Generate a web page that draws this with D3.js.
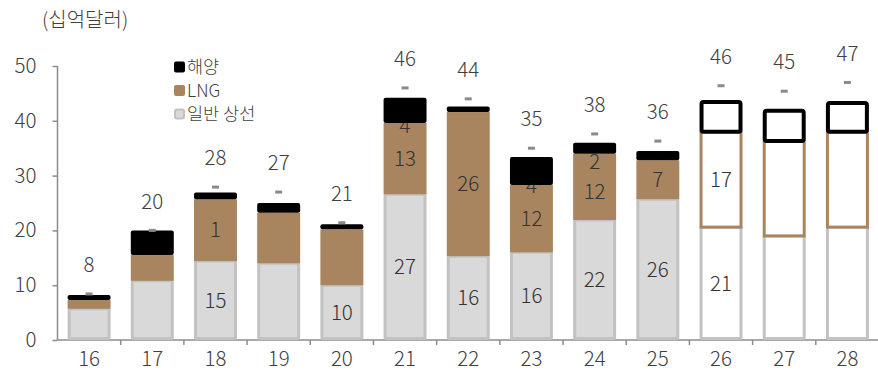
<!DOCTYPE html>
<html><head><meta charset="utf-8">
<script src="https://cdn.jsdelivr.net/npm/d3@7/dist/d3.min.js"></script>
<style>body{margin:0;background:#fff;} svg text{font-family:"Noto Sans CJK KR","Noto Sans",sans-serif;font-weight:300;}</style>
</head><body><svg id="c" width="878" height="374"></svg>
<script>
const years = ["16","17","18","19","20","21","22","23","24","25","26","27","28"];
const general = [5.7, 10.8, 14.4, 14.0, 10.0, 26.6, 15.3, 16.0, 21.9, 25.7, 20.6, 19.0, 20.6];
const lng = [1.6, 4.7, 11.3, 9.2, 10.2, 13.0, 26.3, 12.3, 12.1, 7.1, 17.4, 17.3, 17.4];
const offshore = [0.9, 4.5, 1.2, 1.8, 0.9, 4.6, 1.0, 5.1, 2.0, 1.7, 5.8, 5.9, 5.6];
const totalMarker = [8.4, 20.0, 27.9, 27.0, 21.4, 46.0, 44.0, 35.0, 37.6, 36.3, 46.4, 45.4, 47.0];
const totalLabels = ["8","20","28","27","21","46","44","35","38","36","46","45","47"];
const generalLabels = [null,null,"15",null,"10","27","16","16","22","26","21",null,null];
const lngLabels = [null,null,"1",null,null,"13","26","12","12","7","17",null,null];
const offshoreLabels = [null,null,null,null,null,"4",null,"4","2",null,null,null,null];
const forecast = [false,false,false,false,false,false,false,false,false,false,true,true,true];
const yTicks = [0,10,20,30,40,50];
const legendItems = ["해양","LNG","일반 상선"];

const C = {gray:"#d9d9d9", grayS:"#c2c2c2", brown:"#a8855f", black:"#000", text:"#404040", axis:"#8c8c8c"};
const svg = d3.select("#c");
const x = d3.scaleBand().domain(years).range([57.5, 879]).paddingInner(0.32).paddingOuter(0.16);
const xb = d3.scaleBand().domain(years).range([57.5, 879]);
const y = d3.scaleLinear().domain([0,50]).range([340,66]);
const bw = x.bandwidth();
const FS = "20.5px";

// axes
const ya = svg.append("g").attr("transform","translate(57.5,0)")
  .call(d3.axisLeft(y).tickValues(yTicks).tickSize(5).tickPadding(16).tickSizeOuter(0));
ya.select(".domain").attr("stroke",C.axis).attr("stroke-width",1.5).attr("d","M0,340V66");
ya.selectAll(".tick line").attr("stroke",C.axis).attr("stroke-width",1.5);
ya.selectAll(".tick text").attr("fill",C.text).style("font-size",FS);

const xa = svg.append("g").attr("transform","translate(0,340)")
  .call(d3.axisBottom(xb).tickSize(0).tickPadding(11));
xa.select(".domain").attr("stroke",C.axis).attr("stroke-width",1.5).attr("d","M57.5,0H878");
xa.selectAll(".tick text").attr("fill",C.text).style("font-size",FS);
svg.append("g").selectAll("line").data(years).join("line")
  .attr("x1",d=>xb(d)+xb.bandwidth()).attr("x2",d=>xb(d)+xb.bandwidth())
  .attr("y1",340).attr("y2",345).attr("stroke",C.axis).attr("stroke-width",1.5);

const data = years.map((yr,i)=>({yr,i,g:general[i],l:lng[i],o:offshore[i],f:forecast[i]}));
const bars = svg.append("g");
// general
bars.selectAll("rect.g").data(data).join("rect").attr("class","g")
  .attr("x",d=>x(d.yr)+1.5).attr("width",bw-3)
  .attr("y",d=>y(d.g)).attr("height",d=>y(0)-y(d.g)-1.5)
  .attr("fill",d=>d.f?"#fff":C.gray).attr("stroke",C.grayS).attr("stroke-width",3).attr("rx",1);
// lng
bars.selectAll("rect.l").data(data).join("rect").attr("class","l")
  .attr("x",d=>d.f?x(d.yr)+1.5:x(d.yr)).attr("width",d=>d.f?bw-3:bw)
  .attr("y",d=>y(d.g+d.l)).attr("height",d=>y(d.g)-y(d.g+d.l))
  .attr("fill",d=>d.f?"#fff":C.brown).attr("stroke",d=>d.f?C.brown:"none").attr("stroke-width",3);
// offshore labels (drawn under black)
const lab = svg.append("g").attr("fill","#333").style("font-size",FS).attr("text-anchor","middle");
lab.selectAll("text.ol").data(data.filter(d=>offshoreLabels[d.i])).join("text").attr("class","ol")
  .attr("x",d=>x(d.yr)+bw/2).attr("y",d=>y(d.g+d.l+d.o/2)+(d.i===8?14:15)).attr("dy","0.35em").text(d=>offshoreLabels[d.i]);
// offshore
const ob = svg.append("g");
ob.selectAll("rect").data(data).join("rect")
  .attr("x",d=>d.f?x(d.yr)+2:x(d.yr)).attr("width",d=>d.f?bw-4:bw)
  .attr("y",d=>y(d.g+d.l+d.o)+(d.f?2:0)).attr("height",d=>y(d.g+d.l)-y(d.g+d.l+d.o)-(d.f?2:0))
  .attr("fill",d=>d.f?"#fff":C.black).attr("stroke",d=>d.f?C.black:"none").attr("stroke-width",4).attr("rx",2);
// markers
svg.append("g").selectAll("rect").data(data).join("rect")
  .attr("x",d=>x(d.yr)+bw/2-3.5).attr("width",7).attr("y",d=>y(totalMarker[d.i])-1.5).attr("height",3)
  .attr("fill","#8a8a8a");
// labels
const lab2 = svg.append("g").attr("fill","#333").style("font-size",FS).attr("text-anchor","middle");
lab2.selectAll("text.gl").data(data.filter(d=>generalLabels[d.i])).join("text")
  .attr("x",d=>x(d.yr)+bw/2).attr("y",d=>y(d.g/2)).attr("dy","0.35em").text(d=>generalLabels[d.i]);
lab2.selectAll("text.ll").data(data.filter(d=>lngLabels[d.i])).join("text")
  .attr("x",d=>x(d.yr)+bw/2).attr("y",d=>y(d.g+d.l/2)+(d.i===8?5:0)).attr("dy","0.35em").text(d=>lngLabels[d.i]);
lab2.selectAll("text.tl").data(data).join("text").attr("fill",C.text)
  .attr("x",d=>x(d.yr)+bw/2).attr("y",d=>y(totalMarker[d.i])-29).attr("dy","0.35em").text(d=>totalLabels[d.i]);

// unit
svg.append("text").attr("x",42).attr("y",20).attr("dy","0.35em").attr("fill",C.text)
  .style("font-size","20px").text("(십억달러)");
// legend
const lg = svg.append("g");
const lgFill=[C.black,C.brown,C.gray];
legendItems.forEach((t,i)=>{
  const yy = 67 + i*23.5;
  lg.append("rect").attr("x",i==2?175:174).attr("y",yy-5.5+(i==2?1:0)).attr("width",i==2?9:11).attr("height",i==2?9:11)
    .attr("rx",2).attr("fill",lgFill[i]).attr("stroke",i==2?C.grayS:"none").attr("stroke-width",2);
  lg.append("text").attr("x",187).attr("y",yy).attr("dy","0.35em").attr("fill",C.text)
    .style("font-size","17.5px").text(t);
});
</script></body></html>
